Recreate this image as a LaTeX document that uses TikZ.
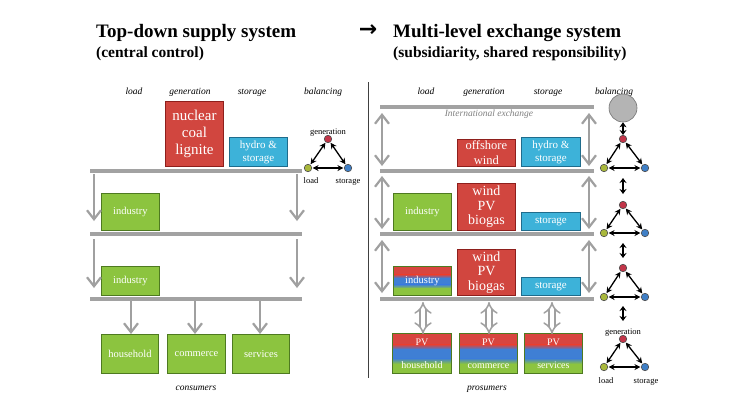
\documentclass[tikz,border=0pt]{standalone}
\usepackage{fontspec}
\setmainfont{Liberation Serif}
\newfontfamily\dejavu{DejaVu Sans}
\usetikzlibrary{arrows.meta,calc}
\definecolor{boxred}{HTML}{D1463F}
\definecolor{boxredd}{HTML}{8E1F1C}
\definecolor{boxblue}{HTML}{3DB2D9}
\definecolor{boxblued}{HTML}{1F6C8C}
\definecolor{boxgreen}{HTML}{8CC43F}
\definecolor{boxgreend}{HTML}{4E7A20}
\definecolor{gradred}{HTML}{D8453F}
\definecolor{gradblue}{HTML}{3F7FD4}
\definecolor{gradgreen}{HTML}{8CC43F}
\definecolor{bargray}{HTML}{A2A2A2}
\definecolor{arrgray}{HTML}{A0A0A0}
\definecolor{dotgreen}{HTML}{A9B83C}
\definecolor{dotred}{HTML}{C23549}
\definecolor{dotblue}{HTML}{3F7FC6}
\definecolor{circgray}{HTML}{B4B4B4}
\begin{document}
\begin{tikzpicture}[x=1pt,y=-1pt,
  box/.style={draw, line width=0.9pt, anchor=north west, inner sep=0pt, align=center, text=white},
  redbox/.style={box, fill=boxred, draw=boxredd},
  bluebox/.style={box, fill=boxblue, draw=boxblued, font=\fontsize{11}{13}\selectfont},
  greenbox/.style={box, fill=boxgreen, draw=boxgreend, font=\fontsize{10.5}{12}\selectfont},
  gradbox/.style={box, draw=boxgreend, path picture={
      \coordinate (pa) at (path picture bounding box.north west);
      \coordinate (pr) at (path picture bounding box.north east);
      \coordinate (pb) at (path picture bounding box.south east);
      \coordinate (pl) at (path picture bounding box.south west);
      \fill[gradred] (pa) rectangle ($(pr)!0.28!(pb)$);
      \shade[top color=gradred, bottom color=gradblue] ($(pa)!0.28!(pl)$) rectangle ($(pr)!0.40!(pb)$);
      \fill[gradblue] ($(pa)!0.40!(pl)$) rectangle ($(pr)!0.62!(pb)$);
      \shade[top color=gradblue, bottom color=gradgreen] ($(pa)!0.62!(pl)$) rectangle ($(pr)!0.76!(pb)$);
      \fill[gradgreen] ($(pa)!0.76!(pl)$) rectangle (pb);
  }},
  bar/.style={draw=bargray, line width=3.5pt},
  garrow/.style={draw=arrgray, line width=2.2pt, -{Straight Barb[length=9pt, width=14pt]}},
  gdarrow/.style={draw=arrgray, line width=2.2pt, {Straight Barb[length=9pt, width=14pt]}-{Straight Barb[length=9pt, width=14pt]}},
  hollow/.style={draw=arrgray, double=white, double distance=4.5pt, line width=1.5pt, {Implies}-{Implies}},
  head/.style={font=\itshape\fontsize{9.5}{11}\selectfont, inner sep=0pt, anchor=base},
  small/.style={font=\fontsize{8.5}{10}\selectfont, inner sep=0pt},
  title/.style={font=\bfseries\fontsize{19}{22}\selectfont, anchor=base west, inner sep=0pt},
  subtitle/.style={font=\bfseries\fontsize{15.5}{18}\selectfont, anchor=base west, inner sep=0pt},
  dot/.style={circle, draw=black!70, line width=0.6pt, minimum size=7.5pt, inner sep=0pt},
  gdot/.style={dot, fill=dotred},
  ldot/.style={dot, fill=dotgreen},
  sdot/.style={dot, fill=dotblue},
  tri/.style={draw=black, line width=1.3pt, {Stealth[length=6pt,width=6pt]}-{Stealth[length=6pt,width=6pt]}, shorten <=0.5pt, shorten >=0.5pt},
  vtri/.style={draw=black, line width=1.8pt, {Stealth[length=5pt,width=7pt]}-{Stealth[length=5pt,width=7pt]}}
]
\useasboundingbox (0,0) rectangle (754,400);
\fill[white] (0,0) rectangle (754,400);

% ---------- titles ----------
\node[title] (t1) at (96,37) {Top-down supply system};
\node[subtitle] (st1) at (96,57) {(central control)};
\node[font=\dejavu\bfseries\fontsize{22}{24}\selectfont, inner sep=0pt] (tarr) at (368,31) {→};
\node[title] (t2) at (393,37) {Multi-level exchange system};
\node[subtitle] (st2) at (393,57) {(subsidiarity, shared responsibility)};

% divider
\coordinate (dv1) at (368,82);
\coordinate (dv2) at (368,378);
\draw[black!75, line width=1pt] (dv1) -- (dv2);

% ---------- left panel ----------
\node[head] (hl1) at (134,94) {load};
\node[head] (hl2) at (190,94) {generation};
\node[head] (hl3) at (252,94) {storage};
\node[head] (hl4) at (323,94) {balancing};

\node[redbox, minimum width=58pt, minimum height=65pt, font=\fontsize{15}{17}\selectfont] (nuc) at (165,101) {nuclear\\coal\\lignite};
\node[bluebox, minimum width=58pt, minimum height=29pt] (hyl) at (229,137) {hydro \&\\storage};

\coordinate (lb1a) at (90,171); \coordinate (lb1b) at (302,171);
\coordinate (lb2a) at (90,234); \coordinate (lb2b) at (302,234);
\coordinate (lb3a) at (90,299); \coordinate (lb3b) at (302,299);
\draw[bar] (lb1a) -- (lb1b);
\draw[bar] (lb2a) -- (lb2b);
\draw[bar] (lb3a) -- (lb3b);

\node[greenbox, minimum width=58pt, minimum height=37pt] (ind1) at (101,193) {industry};
\node[greenbox, minimum width=58pt, minimum height=29pt] (ind2) at (101,266) {industry};

\coordinate (la1s) at (94,174); \coordinate (la1e) at (94,221);
\coordinate (la2s) at (297,174); \coordinate (la2e) at (297,221);
\coordinate (la3s) at (94,239); \coordinate (la3e) at (94,288);
\coordinate (la4s) at (297,239); \coordinate (la4e) at (297,288);
\draw[garrow] (la1s) -- (la1e);
\draw[garrow] (la2s) -- (la2e);
\draw[garrow] (la3s) -- (la3e);
\draw[garrow] (la4s) -- (la4e);

\node[greenbox, minimum width=57pt, minimum height=39pt] (hh) at (101,334) {household};
\node[greenbox, minimum width=58pt, minimum height=39pt] (com) at (167,334) {commerce};
\node[greenbox, minimum width=57pt, minimum height=39pt] (ser) at (232,334) {services};

\coordinate (lc1) at (131,301); \coordinate (lc2) at (195,301); \coordinate (lc3) at (260,301);
\draw[garrow] (lc1) -- (hh.north -| lc1);
\draw[garrow] (lc2) -- (com.north -| lc2);
\draw[garrow] (lc3) -- (ser.north -| lc3);

\node[head] (cons) at (196,390) {consumers};

% left balancing triangle
\node[gdot] (g0) at (328,139) {};
\node[ldot] (l0) at (308,168) {};
\node[sdot] (s0) at (348,168) {};
\draw[tri] (l0) -- (g0);
\draw[tri] (g0) -- (s0);
\draw[tri] (l0) -- (s0);
\node[small, anchor=base] (g0t) at (328,134) {generation};
\node[small, anchor=base] (l0t) at (311,183) {load};
\node[small, anchor=base] (s0t) at (348,183) {storage};

% ---------- right panel ----------
\node[head] (hr1) at (426,94) {load};
\node[head] (hr2) at (484,94) {generation};
\node[head] (hr3) at (548,94) {storage};
\node[head] (hr4) at (614,94) {balancing};

\coordinate (rb0a) at (380,107); \coordinate (rb0b) at (594,107);
\coordinate (rb1a) at (380,171); \coordinate (rb1b) at (594,171);
\coordinate (rb2a) at (380,234); \coordinate (rb2b) at (594,234);
\coordinate (rb3a) at (380,299); \coordinate (rb3b) at (594,299);
\draw[bar] (rb0a) -- (rb0b);
\draw[bar] (rb1a) -- (rb1b);
\draw[bar] (rb2a) -- (rb2b);
\draw[bar] (rb3a) -- (rb3b);
\node[font=\itshape\fontsize{9.5}{11}\selectfont, text=black!50, inner sep=0pt] (intl) at (489,114) {International exchange};

% row 1
\node[redbox, minimum width=58pt, minimum height=27pt, font=\fontsize{12.5}{15}\selectfont] (off) at (457,139) {offshore\\wind};
\node[bluebox, minimum width=59pt, minimum height=29pt] (hyr) at (521,137) {hydro \&\\storage};
% row 2
\node[greenbox, minimum width=58pt, minimum height=37pt] (ind3) at (393,193) {industry};
\node[redbox, minimum width=58pt, minimum height=47pt, font=\fontsize{14}{14.5}\selectfont] (wpb1) at (457,183) {wind\\PV\\biogas};
\node[bluebox, minimum width=59pt, minimum height=18pt] (st2b) at (521,212) {storage};
% row 3
\node[gradbox, minimum width=58pt, minimum height=29pt, font=\fontsize{10.5}{12}\selectfont] (ind4) at (393,266) {industry};
\node[redbox, minimum width=58pt, minimum height=46pt, font=\fontsize{14}{14.5}\selectfont] (wpb2) at (457,249) {wind\\PV\\biogas};
\node[bluebox, minimum width=59pt, minimum height=18pt] (st3b) at (521,277) {storage};

% side double arrows
\coordinate (ra1s) at (382,113); \coordinate (ra1e) at (382,166);
\coordinate (ra2s) at (589,113); \coordinate (ra2e) at (589,166);
\coordinate (ra3s) at (382,176); \coordinate (ra3e) at (382,229);
\coordinate (ra4s) at (589,176); \coordinate (ra4e) at (589,229);
\coordinate (ra5s) at (382,240); \coordinate (ra5e) at (382,293);
\coordinate (ra6s) at (589,240); \coordinate (ra6e) at (589,293);
\draw[gdarrow] (ra1s) -- (ra1e);
\draw[gdarrow] (ra2s) -- (ra2e);
\draw[gdarrow] (ra3s) -- (ra3e);
\draw[gdarrow] (ra4s) -- (ra4e);
\draw[gdarrow] (ra5s) -- (ra5e);
\draw[gdarrow] (ra6s) -- (ra6e);

% prosumers
\node[gradbox, minimum width=59pt, minimum height=40pt, font=\fontsize{10}{23}\selectfont] (phh) at (392,333) {PV\\household};
\node[gradbox, minimum width=58pt, minimum height=40pt, font=\fontsize{10}{23}\selectfont] (pcom) at (459,333) {PV\\commerce};
\node[gradbox, minimum width=58pt, minimum height=40pt, font=\fontsize{10}{23}\selectfont] (pser) at (524,333) {PV\\services};
\coordinate (rc1) at (423,302); \coordinate (rc2) at (489,302); \coordinate (rc3) at (552,302);
\draw[hollow] (rc1) -- ([yshift=-1pt]phh.north -| rc1);
\draw[hollow] (rc2) -- ([yshift=-1pt]pcom.north -| rc2);
\draw[hollow] (rc3) -- ([yshift=-1pt]pser.north -| rc3);
\node[head] (pros) at (487,390) {prosumers};

% balancing column
\node[circle, fill=circgray, draw=black!55, line width=0.6pt, minimum size=28pt, inner sep=0pt] (bal) at (623,108) {};

\node[gdot] (g1) at (623,139) {};
\node[ldot] (l1) at (604,168) {};
\node[sdot] (s1) at (645,168) {};
\node[gdot] (g2) at (623,205) {};
\node[ldot] (l2) at (604,233) {};
\node[sdot] (s2) at (645,233) {};
\node[gdot] (g3) at (623,268) {};
\node[ldot] (l3) at (604,297) {};
\node[sdot] (s3) at (645,297) {};
\node[gdot] (g4) at (623,339) {};
\node[ldot] (l4) at (604,367) {};
\node[sdot] (s4) at (645,367) {};
\foreach \i in {1,2,3,4} {
  \draw[tri] (l\i) -- (g\i);
  \draw[tri] (g\i) -- (s\i);
  \draw[tri] (l\i) -- (s\i);
}
\draw[vtri] (bal.south) -- (g1.north);
\coordinate (v1a) at (623,178); \coordinate (v1b) at (623,194);
\coordinate (v2a) at (623,243); \coordinate (v2b) at (623,258);
\coordinate (v3a) at (623,306); \coordinate (v3b) at (623,321);
\draw[vtri] (v1a) -- (v1b);
\draw[vtri] (v2a) -- (v2b);
\draw[vtri] (v3a) -- (v3b);
\node[small, anchor=base] (g4t) at (623,334) {generation};
\node[small, anchor=base] (l4t) at (606,383) {load};
\node[small, anchor=base] (s4t) at (646,383) {storage};
\end{tikzpicture}
\end{document}
